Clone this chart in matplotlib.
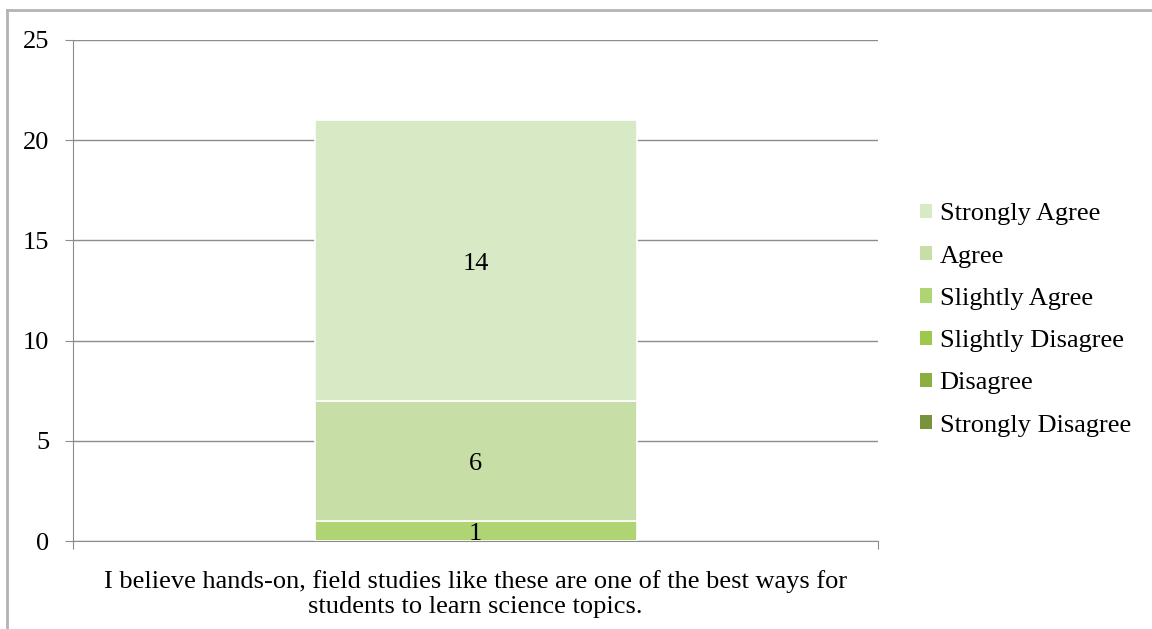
import matplotlib
matplotlib.use("Agg")
import matplotlib.pyplot as plt
from matplotlib.patches import Patch
from matplotlib.lines import Line2D

plt.rcParams['font.family'] = ['Liberation Serif', 'DejaVu Serif']

question = ["I believe hands-on, field studies like these are one of the best ways for\nstudents to learn science topics."]
responses = ["Strongly Disagree", "Disagree", "Slightly Disagree", "Slightly Agree", "Agree", "Strongly Agree"]
counts = [0, 0, 0, 1, 6, 14]
colors = ["#77933C", "#8BB041", "#9DC84C", "#AED474", "#C7DFA6", "#D8E9C5"]
yticks = [0, 5, 10, 15, 20, 25]

FS = 19

fig = plt.figure(figsize=(11.52, 6.29), dpi=100)
ax = fig.add_axes([73/1152, 1-541/629, (878-73)/1152, (541-40)/629])

bottom = 0
for r, c, col in zip(responses, counts, colors):
    if c > 0:
        ax.bar(0, c, width=0.4, bottom=bottom, color=col, edgecolor="white", linewidth=1.2, zorder=3)
        ax.annotate(str(c), xy=(0, bottom + c/2), xytext=(0, -2.5), textcoords="offset points",
                    ha="center", va="center", fontsize=FS, zorder=4)
    bottom += c

ax.set_xlim(-0.5, 0.5)
ax.set_ylim(0, 25)
ax.set_yticks(yticks)
ax.set_yticklabels([str(v) for v in yticks], fontsize=FS)
ax.yaxis.grid(True, color="#8C8C8C", linewidth=1)
ax.set_axisbelow(True)
ax.set_xticks([-0.5, 0.5])
ax.set_xticklabels([])
ax.tick_params(axis="x", length=6, color="#8C8C8C", direction="out")
ax.tick_params(axis="y", length=6, color="#8C8C8C", direction="out", pad=11)
for s in ["top", "right"]:
    ax.spines[s].set_visible(False)
for s in ["left", "bottom"]:
    ax.spines[s].set_color("#8C8C8C")
ax.text(0, -1.45, question[0], ha="center", va="top", fontsize=FS, transform=ax.transData, linespacing=1.2)

handles = [Patch(facecolor=col, edgecolor="none", label=r) for r, col in zip(responses, colors)][::-1]
leg = fig.legend(handles=handles, loc="center left", bbox_to_anchor=(896/1152, 1-320/629),
                 frameon=False, fontsize=FS, handlelength=0.45, handleheight=0.45,
                 handletextpad=0.3, labelspacing=0.77)

# outer chart border
fig.add_artist(Line2D([7/1152, 1.0], [1-9.5/629, 1-9.5/629], color="#B3B3B3", linewidth=2, transform=fig.transFigure))
fig.add_artist(Line2D([7/1152, 7/1152], [0, 1-9.5/629], color="#B3B3B3", linewidth=2, transform=fig.transFigure))

fig.savefig("out.png", dpi=100)
